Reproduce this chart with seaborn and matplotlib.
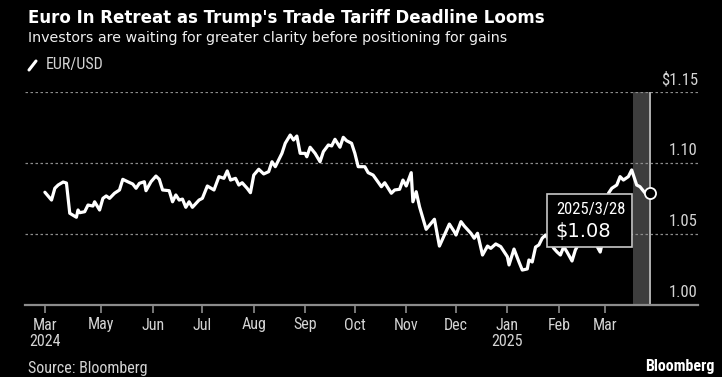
import matplotlib

matplotlib.use("Agg")
import matplotlib.pyplot as plt
import pandas as pd
import seaborn as sns
from matplotlib.lines import Line2D
from matplotlib.patches import Rectangle

sns.set_theme(style="dark")
plt.rcParams["font.family"] = ["Roboto Condensed", "DejaVu Sans"]
HEAD = ["DejaVu Sans"]

start = pd.Timestamp("2024-03-28")
days = [0, 4, 6, 8, 11, 13, 15, 19, 20, 21, 24, 26, 29, 30, 33, 35, 37, 39, 42, 45,
        47, 50, 53, 55, 57, 60, 61, 64, 67, 69, 71, 75, 77, 79, 81, 83, 85, 87, 89, 93,
        95, 98, 102, 105, 108, 110, 112, 115, 117, 119, 122, 124, 126, 129, 132, 135, 137, 139,
        143, 145, 148, 150, 152, 154, 157, 158, 160, 163, 166, 168, 171, 173, 175, 178, 180, 182,
        185, 187, 189, 193, 195, 198, 203, 205, 209, 211, 214, 216, 218, 221, 222, 224, 226,
        230, 235, 238, 241, 244, 247, 248, 251, 253, 257, 259, 261, 264, 267, 269, 272, 275,
        279, 280, 283, 286, 288, 291, 292, 294, 296, 298, 300, 302, 304, 307, 309, 311, 313,
        315, 317, 318, 320, 322, 326, 330, 333, 335, 336, 338, 340, 342, 345, 347, 349, 352,
        354, 357, 359, 363, 365]
eurusd = [1.0794, 1.0739, 1.0822, 1.0845, 1.0866, 1.0859, 1.0646, 1.0618, 1.0669, 1.0650,
          1.0657, 1.0704, 1.0697, 1.0727, 1.0669, 1.0751, 1.0768, 1.0751, 1.0787, 1.0810,
          1.0885, 1.0868, 1.0852, 1.0822, 1.0857, 1.0868, 1.0805, 1.0868, 1.0908, 1.0885,
          1.0810, 1.0805, 1.0727, 1.0775, 1.0739, 1.0746, 1.0688, 1.0727, 1.0688, 1.0739,
          1.0751, 1.0838, 1.0810, 1.0904, 1.0892, 1.0944, 1.0880, 1.0892, 1.0845, 1.0861,
          1.0822, 1.0791, 1.0915, 1.0956, 1.0923, 1.0939, 1.1009, 1.0974,
          1.1068, 1.1139, 1.1197, 1.1162, 1.1190, 1.1068, 1.1068, 1.1044, 1.1111, 1.1068,
          1.1009, 1.1080, 1.1127, 1.1120, 1.1167, 1.1111, 1.1181, 1.1157, 1.1139, 1.1068,
          1.0974, 1.0974, 1.0932, 1.0915, 1.0833, 1.0861, 1.0787, 1.0810, 1.0815, 1.0880,
          1.0838, 1.0932, 1.0727, 1.0798, 1.0692, 1.0533, 1.0604, 1.0415, 1.0493, 1.0570,
          1.0516, 1.0493, 1.0587, 1.0556, 1.0505, 1.0470, 1.0505, 1.0352, 1.0415, 1.0399,
          1.0430, 1.0411, 1.0340, 1.0282, 1.0394, 1.0303, 1.0246, 1.0254, 1.0317, 1.0303,
          1.0408, 1.0423, 1.0470, 1.0493, 1.0458, 1.0399, 1.0373, 1.0352, 1.0411, 1.0373,
          1.0331, 1.0310, 1.0387, 1.0430, 1.0458, 1.0444, 1.0415, 1.0373, 1.0423, 1.0563,
          1.0787, 1.0822, 1.0845, 1.0904, 1.0880, 1.0904, 1.0951, 1.0845, 1.0833, 1.0775,
          1.0792]

tick_dates = ["2024-03-28", "2024-05-01", "2024-06-01", "2024-07-01", "2024-08-01",
              "2024-09-01", "2024-10-01", "2024-11-01", "2024-12-01", "2025-01-01",
              "2025-02-01", "2025-03-01"]
tick_labels = ["Mar\n2024", "May", "Jun", "Jul", "Aug", "Sep", "Oct", "Nov", "Dec",
               "Jan\n2025", "Feb", "Mar"]
y_ticks = [1.00, 1.05, 1.10, 1.15]
y_labels = ["1.00", "1.05", "1.10", "$1.15"]
band = ("2025-03-18", "2025-03-28")

df = pd.DataFrame({"date": start + pd.to_timedelta(days, unit="D"), "EUR/USD": eurusd})

BG = "black"
GRID = "#8c8c8c"
TXT = "#d4d4d4"

fig = plt.figure(figsize=(7.22, 3.77), dpi=100, facecolor=BG)
ax = fig.add_axes([25 / 722, 1 - 305 / 377, 673 / 722, 213 / 377])
ax.set_facecolor(BG)

# highlight band + current marker line
b0, b1 = pd.Timestamp(band[0]), pd.Timestamp(band[1])
ax.axvspan(b0, b1, color="#3d3d3d", lw=0, zorder=0)
ax.axvline(b1, color="#b0b0b0", lw=1.4, zorder=1)

for yv in y_ticks[1:]:
    ax.axhline(yv, color=GRID, lw=0.9, ls=(0, (2, 2)), zorder=0.5)

sns.lineplot(data=df, x="date", y="EUR/USD", color="white", lw=2.3, ax=ax, zorder=3)
ax.plot(df["date"].iloc[-1], df["EUR/USD"].iloc[-1], "o", ms=8, mfc="black",
        mec="white", mew=1.3, zorder=6)

ax.set_xlim(pd.Timestamp("2024-03-16"), pd.Timestamp("2025-04-26"))
ax.set_ylim(1.00, 1.15)
ax.set_xlabel("")
ax.set_ylabel("")
ax.grid(False)
for s in ["top", "left", "right"]:
    ax.spines[s].set_visible(False)
ax.spines["bottom"].set_color(GRID)
ax.spines["bottom"].set_linewidth(1.6)

ax.set_xticks(pd.to_datetime(tick_dates))
ax.set_xticklabels(tick_labels, color=TXT, fontsize=11.5, linespacing=1.1)
ax.tick_params(axis="x", length=6, width=1.2, color=GRID, pad=3, bottom=True, direction="out")
ax.set_yticks([])

for yv, lab in zip(y_ticks, y_labels):
    ax.text(1.0, yv + 0.0035, lab, transform=ax.get_yaxis_transform(), ha="right",
            va="bottom", color=TXT, fontsize=12)

# tooltip box
tip_x, tip_y = 547 / 722, 1 - 247 / 377
fig.patches.append(Rectangle((tip_x, tip_y), 85 / 722, 53 / 377, transform=fig.transFigure,
                             facecolor="black", edgecolor="#c8c8c8", lw=1.2, zorder=5))
fig.text(556 / 722, 1 - 209 / 377, "2025/3/28", color="white", fontsize=12, va="center",
         zorder=6)
fig.text(555 / 722, 1 - 231 / 377, "$1.08", color="white", fontsize=14, va="center",
         family=HEAD, zorder=6)

fig.text(28 / 722, 1 - 18 / 377, "Euro In Retreat as Trump's Trade Tariff Deadline Looms",
         color="white", fontsize=12, fontweight="bold", va="center", family=HEAD)
fig.text(28 / 722, 1 - 38 / 377, "Investors are waiting for greater clarity before positioning for gains",
         color="#f0f0f0", fontsize=10.3, va="center", family=HEAD)
fig.add_artist(Line2D([29 / 722, 36 / 722], [1 - 70 / 377, 1 - 61 / 377], color="white",
                      lw=2.2, transform=fig.transFigure))
fig.text(46 / 722, 1 - 65 / 377, "EUR/USD", color=TXT, fontsize=11.5, va="center")
fig.text(28 / 722, 1 - 369 / 377, "Source: Bloomberg", color=TXT, fontsize=11.5, va="center")
fig.text(715 / 722, 1 - 367 / 377, "Bloomberg", color="white", fontsize=11.5, va="center",
         ha="right", fontweight="bold")

fig.savefig("out.png", dpi=100, facecolor=BG)
